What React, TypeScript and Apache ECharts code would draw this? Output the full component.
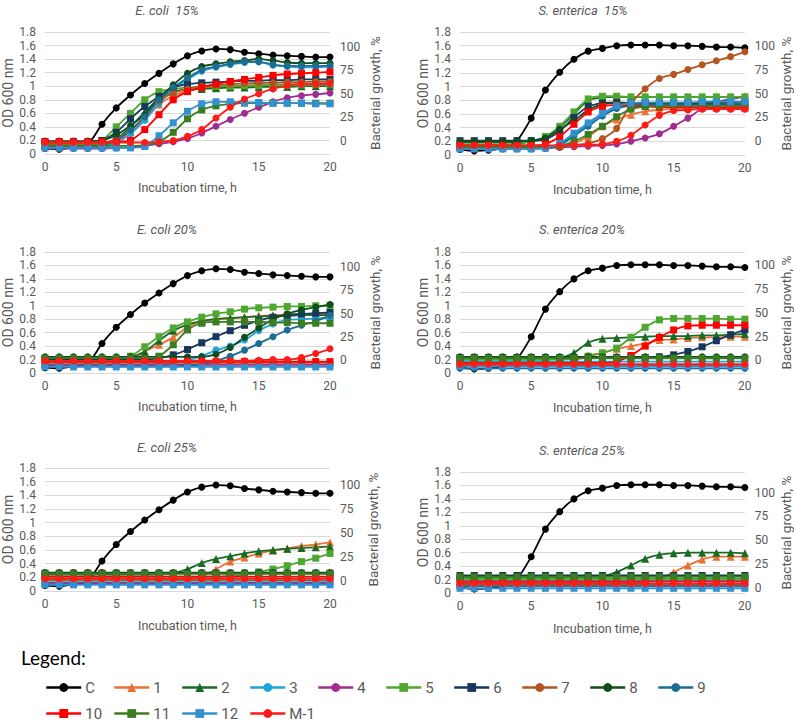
import React, { useEffect, useRef } from "react";
import * as echarts from "echarts";

// ---------- data ----------
const hours = [0, 1, 2, 3, 4, 5, 6, 7, 8, 9, 10, 11, 12, 13, 14, 15, 16, 17, 18, 19, 20];
const seriesNames = ["C", "1", "2", "3", "4", "5", "6", "7", "8", "9", "10", "11", "12", "M-1"];
const seriesColors = ["#000000", "#E97132", "#196B24", "#1EA3DC", "#A02B93", "#4EA72E", "#17375E", "#B4541E", "#0F4D1E", "#1C6D94", "#FF0000", "#3B7D23", "#3391CF", "#FF1A1A"];
const seriesSymbols = ["circle", "triangle", "triangle", "circle", "circle", "rect", "rect", "circle", "circle", "circle", "rect", "rect", "rect", "circle"];
const odTickStep = 0.2;
const growthTicks = [0, 25, 50, 75, 100];
const panelTitles = ["E. coli  15%", "S. enterica  15%", "E. coli 20%", "S. enterica 20%", "E. coli 25%", "S. enterica 25%"];
const growthRanges = [[-13.8, 115.6], [-14.8, 115.3], [-13.4, 116], [-13.2, 113.8], [-10.8, 118.3], [-5.7, 121.7]];

const ecoliControl = [0.08, 0.07, 0.10, 0.14, 0.44, 0.68, 0.87, 1.04, 1.19, 1.33, 1.45, 1.52, 1.55, 1.54, 1.50, 1.48, 1.46, 1.45, 1.44, 1.43, 1.43];
const entericaControl = [0.08, 0.06, 0.07, 0.10, 0.21, 0.54, 0.95, 1.21, 1.40, 1.52, 1.56, 1.60, 1.61, 1.61, 1.61, 1.60, 1.60, 1.59, 1.58, 1.58, 1.57];

// treatments 1..12, M-1
const ecoli15 = [
  [0.15, 0.15, 0.15, 0.15, 0.16, 0.19, 0.32, 0.52, 0.73, 0.86, 0.93, 0.97, 0.99, 1.00, 1.01, 1.02, 1.02, 1.03, 1.03, 1.04, 1.04],
  [0.13, 0.13, 0.13, 0.13, 0.14, 0.22, 0.40, 0.62, 0.82, 0.92, 0.95, 0.96, 0.97, 0.98, 0.98, 0.99, 0.99, 0.99, 1.00, 1.00, 1.00],
  [0.10, 0.10, 0.10, 0.10, 0.11, 0.16, 0.30, 0.50, 0.74, 0.95, 1.10, 1.22, 1.28, 1.32, 1.35, 1.36, 1.31, 1.29, 1.28, 1.28, 1.29],
  [0.08, 0.08, 0.08, 0.08, 0.08, 0.09, 0.10, 0.12, 0.15, 0.18, 0.23, 0.31, 0.41, 0.51, 0.60, 0.69, 0.77, 0.83, 0.86, 0.88, 0.90],
  [0.15, 0.15, 0.15, 0.15, 0.20, 0.40, 0.60, 0.80, 0.92, 0.96, 0.98, 0.99, 1.00, 1.00, 1.01, 1.01, 1.02, 1.02, 1.02, 1.03, 1.03],
  [0.18, 0.18, 0.18, 0.18, 0.20, 0.32, 0.52, 0.70, 0.85, 0.98, 1.03, 1.05, 1.06, 1.07, 1.08, 1.08, 1.09, 1.09, 1.10, 1.10, 1.10],
  [0.15, 0.15, 0.15, 0.15, 0.16, 0.22, 0.35, 0.55, 0.78, 0.90, 0.96, 1.00, 1.02, 1.03, 1.04, 1.05, 1.05, 1.06, 1.06, 1.07, 1.07],
  [0.19, 0.19, 0.19, 0.19, 0.20, 0.28, 0.42, 0.58, 0.82, 1.02, 1.19, 1.29, 1.33, 1.36, 1.38, 1.40, 1.38, 1.35, 1.34, 1.34, 1.34],
  [0.10, 0.10, 0.10, 0.10, 0.12, 0.20, 0.35, 0.55, 0.80, 0.98, 1.12, 1.24, 1.29, 1.33, 1.36, 1.36, 1.32, 1.30, 1.30, 1.30, 1.30],
  [0.18, 0.18, 0.18, 0.18, 0.18, 0.18, 0.20, 0.36, 0.58, 0.80, 0.92, 0.98, 1.03, 1.07, 1.10, 1.13, 1.16, 1.18, 1.19, 1.20, 1.21],
  [0.12, 0.12, 0.12, 0.12, 0.12, 0.12, 0.12, 0.13, 0.18, 0.32, 0.52, 0.65, 0.71, 0.74, 0.75, 0.75, 0.75, 0.75, 0.75, 0.75, 0.75],
  [0.09, 0.09, 0.09, 0.09, 0.09, 0.09, 0.09, 0.11, 0.27, 0.46, 0.63, 0.74, 0.77, 0.77, 0.76, 0.76, 0.75, 0.75, 0.75, 0.74, 0.74],
  [0.17, 0.17, 0.17, 0.17, 0.17, 0.17, 0.17, 0.17, 0.18, 0.20, 0.26, 0.36, 0.53, 0.69, 0.81, 0.89, 0.96, 1.01, 1.03, 1.03, 1.04],
];

const enterica15 = [
  [0.12, 0.12, 0.12, 0.12, 0.12, 0.12, 0.12, 0.13, 0.17, 0.27, 0.42, 0.52, 0.59, 0.64, 0.66, 0.68, 0.69, 0.70, 0.70, 0.70, 0.70],
  [0.18, 0.18, 0.18, 0.18, 0.18, 0.20, 0.25, 0.40, 0.60, 0.80, 0.84, 0.85, 0.85, 0.85, 0.85, 0.85, 0.85, 0.85, 0.85, 0.85, 0.85],
  [0.10, 0.10, 0.10, 0.10, 0.10, 0.10, 0.11, 0.15, 0.30, 0.45, 0.60, 0.70, 0.74, 0.75, 0.75, 0.75, 0.75, 0.75, 0.75, 0.75, 0.75],
  [0.10, 0.10, 0.10, 0.10, 0.10, 0.10, 0.10, 0.11, 0.12, 0.13, 0.14, 0.16, 0.20, 0.25, 0.31, 0.42, 0.54, 0.68, 0.77, 0.82, 0.85],
  [0.15, 0.15, 0.15, 0.15, 0.16, 0.20, 0.27, 0.42, 0.63, 0.82, 0.86, 0.86, 0.85, 0.85, 0.85, 0.85, 0.85, 0.85, 0.85, 0.85, 0.85],
  [0.21, 0.21, 0.21, 0.21, 0.21, 0.21, 0.23, 0.35, 0.55, 0.71, 0.76, 0.77, 0.76, 0.75, 0.75, 0.75, 0.75, 0.74, 0.74, 0.74, 0.74],
  [0.10, 0.10, 0.10, 0.10, 0.10, 0.10, 0.11, 0.12, 0.14, 0.17, 0.24, 0.39, 0.75, 0.97, 1.12, 1.18, 1.25, 1.32, 1.38, 1.44, 1.51],
  [0.20, 0.20, 0.20, 0.20, 0.20, 0.21, 0.25, 0.38, 0.50, 0.66, 0.74, 0.76, 0.76, 0.76, 0.76, 0.76, 0.76, 0.76, 0.77, 0.77, 0.78],
  [0.09, 0.09, 0.09, 0.09, 0.09, 0.09, 0.10, 0.14, 0.28, 0.42, 0.57, 0.68, 0.72, 0.73, 0.73, 0.73, 0.73, 0.73, 0.73, 0.73, 0.73],
  [0.14, 0.14, 0.14, 0.14, 0.14, 0.14, 0.16, 0.27, 0.45, 0.63, 0.71, 0.73, 0.72, 0.71, 0.70, 0.70, 0.70, 0.69, 0.69, 0.69, 0.69],
  [0.12, 0.12, 0.12, 0.12, 0.12, 0.12, 0.12, 0.13, 0.20, 0.30, 0.42, 0.56, 0.67, 0.71, 0.72, 0.72, 0.72, 0.72, 0.72, 0.72, 0.72],
  [0.09, 0.09, 0.09, 0.09, 0.09, 0.09, 0.10, 0.17, 0.32, 0.47, 0.61, 0.72, 0.76, 0.77, 0.77, 0.77, 0.77, 0.78, 0.78, 0.78, 0.78],
  [0.14, 0.14, 0.14, 0.14, 0.14, 0.14, 0.14, 0.14, 0.15, 0.15, 0.16, 0.20, 0.29, 0.44, 0.58, 0.65, 0.66, 0.67, 0.67, 0.67, 0.67],
];

const ecoli20 = [
  [0.16, 0.16, 0.16, 0.16, 0.16, 0.16, 0.18, 0.32, 0.42, 0.53, 0.68, 0.77, 0.80, 0.81, 0.83, 0.85, 0.86, 0.87, 0.88, 0.88, 0.88],
  [0.22, 0.22, 0.22, 0.22, 0.22, 0.22, 0.24, 0.32, 0.48, 0.63, 0.72, 0.77, 0.80, 0.82, 0.83, 0.84, 0.85, 0.85, 0.86, 0.86, 0.86],
  [0.12, 0.12, 0.12, 0.12, 0.12, 0.12, 0.12, 0.12, 0.13, 0.15, 0.19, 0.25, 0.34, 0.40, 0.49, 0.63, 0.73, 0.79, 0.80, 0.81, 0.82],
  [0.12, 0.12, 0.12, 0.12, 0.12, 0.12, 0.12, 0.12, 0.12, 0.12, 0.12, 0.12, 0.12, 0.12, 0.12, 0.12, 0.12, 0.12, 0.12, 0.12, 0.12],
  [0.21, 0.21, 0.21, 0.21, 0.21, 0.21, 0.25, 0.39, 0.54, 0.67, 0.76, 0.83, 0.88, 0.91, 0.95, 0.97, 0.98, 0.99, 0.99, 1.00, 1.00],
  [0.20, 0.20, 0.20, 0.20, 0.20, 0.20, 0.20, 0.20, 0.22, 0.27, 0.35, 0.45, 0.54, 0.63, 0.71, 0.78, 0.83, 0.86, 0.88, 0.89, 0.90],
  [0.15, 0.15, 0.15, 0.15, 0.15, 0.15, 0.15, 0.15, 0.15, 0.15, 0.15, 0.15, 0.15, 0.15, 0.15, 0.15, 0.15, 0.15, 0.15, 0.15, 0.15],
  [0.24, 0.24, 0.24, 0.24, 0.24, 0.24, 0.24, 0.24, 0.24, 0.24, 0.24, 0.24, 0.28, 0.38, 0.53, 0.67, 0.80, 0.88, 0.94, 0.98, 1.02],
  [0.10, 0.10, 0.10, 0.10, 0.10, 0.10, 0.10, 0.10, 0.10, 0.10, 0.11, 0.13, 0.18, 0.25, 0.34, 0.44, 0.54, 0.64, 0.71, 0.77, 0.86],
  [0.17, 0.17, 0.17, 0.17, 0.17, 0.17, 0.17, 0.17, 0.17, 0.17, 0.17, 0.17, 0.17, 0.17, 0.17, 0.17, 0.17, 0.17, 0.17, 0.17, 0.17],
  [0.22, 0.22, 0.22, 0.22, 0.22, 0.22, 0.22, 0.22, 0.25, 0.42, 0.64, 0.74, 0.76, 0.76, 0.76, 0.76, 0.75, 0.75, 0.74, 0.74, 0.74],
  [0.09, 0.09, 0.09, 0.09, 0.09, 0.09, 0.09, 0.09, 0.09, 0.09, 0.09, 0.09, 0.09, 0.09, 0.09, 0.09, 0.09, 0.09, 0.09, 0.09, 0.09],
  [0.18, 0.18, 0.18, 0.18, 0.18, 0.18, 0.18, 0.18, 0.18, 0.18, 0.18, 0.18, 0.18, 0.18, 0.18, 0.19, 0.20, 0.20, 0.23, 0.29, 0.36],
];

const enterica20 = [
  [0.15, 0.15, 0.15, 0.15, 0.15, 0.15, 0.15, 0.15, 0.18, 0.26, 0.30, 0.36, 0.40, 0.44, 0.49, 0.50, 0.52, 0.53, 0.53, 0.54, 0.54],
  [0.20, 0.20, 0.20, 0.20, 0.20, 0.20, 0.20, 0.22, 0.30, 0.45, 0.51, 0.52, 0.53, 0.54, 0.55, 0.55, 0.55, 0.56, 0.56, 0.57, 0.58],
  [0.17, 0.17, 0.17, 0.17, 0.17, 0.17, 0.17, 0.17, 0.17, 0.17, 0.17, 0.17, 0.17, 0.17, 0.17, 0.17, 0.17, 0.17, 0.17, 0.17, 0.17],
  [0.11, 0.11, 0.11, 0.11, 0.11, 0.11, 0.11, 0.11, 0.11, 0.11, 0.11, 0.11, 0.11, 0.11, 0.11, 0.11, 0.11, 0.11, 0.11, 0.11, 0.11],
  [0.20, 0.20, 0.20, 0.20, 0.20, 0.20, 0.20, 0.20, 0.21, 0.25, 0.30, 0.37, 0.53, 0.68, 0.79, 0.81, 0.81, 0.81, 0.81, 0.80, 0.80],
  [0.23, 0.23, 0.23, 0.23, 0.23, 0.23, 0.23, 0.23, 0.23, 0.23, 0.23, 0.23, 0.23, 0.23, 0.24, 0.27, 0.32, 0.39, 0.48, 0.57, 0.64],
  [0.12, 0.12, 0.12, 0.12, 0.12, 0.12, 0.12, 0.12, 0.12, 0.12, 0.12, 0.12, 0.12, 0.12, 0.12, 0.12, 0.12, 0.12, 0.12, 0.12, 0.12],
  [0.24, 0.24, 0.24, 0.24, 0.24, 0.24, 0.24, 0.24, 0.24, 0.24, 0.24, 0.24, 0.24, 0.24, 0.24, 0.24, 0.24, 0.24, 0.24, 0.24, 0.24],
  [0.07, 0.07, 0.07, 0.07, 0.07, 0.07, 0.07, 0.07, 0.07, 0.07, 0.07, 0.07, 0.07, 0.07, 0.07, 0.07, 0.07, 0.07, 0.07, 0.07, 0.07],
  [0.15, 0.15, 0.15, 0.15, 0.15, 0.15, 0.15, 0.15, 0.15, 0.15, 0.15, 0.17, 0.26, 0.40, 0.53, 0.64, 0.70, 0.71, 0.71, 0.71, 0.71],
  [0.22, 0.22, 0.22, 0.22, 0.22, 0.22, 0.22, 0.22, 0.22, 0.22, 0.22, 0.22, 0.22, 0.22, 0.22, 0.22, 0.22, 0.22, 0.22, 0.22, 0.22],
  [0.10, 0.10, 0.10, 0.10, 0.10, 0.10, 0.10, 0.10, 0.10, 0.10, 0.10, 0.10, 0.10, 0.10, 0.10, 0.10, 0.10, 0.10, 0.10, 0.10, 0.10],
  [0.13, 0.13, 0.13, 0.13, 0.13, 0.13, 0.13, 0.13, 0.13, 0.13, 0.13, 0.13, 0.13, 0.13, 0.13, 0.13, 0.13, 0.13, 0.13, 0.13, 0.13],
];

const ecoli25 = [
  [0.16, 0.16, 0.16, 0.16, 0.16, 0.16, 0.16, 0.16, 0.16, 0.16, 0.17, 0.21, 0.32, 0.43, 0.49, 0.55, 0.59, 0.62, 0.66, 0.68, 0.71],
  [0.24, 0.24, 0.24, 0.24, 0.24, 0.24, 0.24, 0.24, 0.24, 0.26, 0.32, 0.41, 0.47, 0.51, 0.55, 0.58, 0.60, 0.62, 0.63, 0.64, 0.65],
  [0.13, 0.13, 0.13, 0.13, 0.13, 0.13, 0.13, 0.13, 0.13, 0.13, 0.13, 0.13, 0.13, 0.13, 0.13, 0.13, 0.13, 0.13, 0.13, 0.13, 0.13],
  [0.12, 0.12, 0.12, 0.12, 0.12, 0.12, 0.12, 0.12, 0.12, 0.12, 0.12, 0.12, 0.12, 0.12, 0.12, 0.12, 0.12, 0.12, 0.12, 0.12, 0.12],
  [0.21, 0.21, 0.21, 0.21, 0.21, 0.21, 0.21, 0.21, 0.21, 0.21, 0.21, 0.21, 0.21, 0.22, 0.24, 0.28, 0.32, 0.37, 0.43, 0.48, 0.55],
  [0.26, 0.26, 0.26, 0.26, 0.26, 0.26, 0.26, 0.26, 0.26, 0.26, 0.26, 0.26, 0.26, 0.26, 0.26, 0.26, 0.26, 0.26, 0.26, 0.26, 0.26],
  [0.16, 0.16, 0.16, 0.16, 0.16, 0.16, 0.16, 0.16, 0.16, 0.16, 0.16, 0.16, 0.16, 0.16, 0.16, 0.16, 0.16, 0.16, 0.16, 0.16, 0.16],
  [0.27, 0.27, 0.27, 0.27, 0.27, 0.27, 0.27, 0.27, 0.27, 0.27, 0.27, 0.27, 0.27, 0.27, 0.27, 0.27, 0.27, 0.27, 0.27, 0.27, 0.27],
  [0.10, 0.10, 0.10, 0.10, 0.10, 0.10, 0.10, 0.10, 0.10, 0.10, 0.10, 0.10, 0.10, 0.10, 0.10, 0.10, 0.10, 0.10, 0.10, 0.10, 0.10],
  [0.21, 0.21, 0.21, 0.21, 0.21, 0.21, 0.21, 0.21, 0.21, 0.21, 0.21, 0.21, 0.21, 0.21, 0.21, 0.21, 0.21, 0.21, 0.21, 0.21, 0.21],
  [0.25, 0.25, 0.25, 0.25, 0.25, 0.25, 0.25, 0.25, 0.25, 0.25, 0.25, 0.25, 0.25, 0.25, 0.25, 0.25, 0.25, 0.25, 0.25, 0.25, 0.25],
  [0.09, 0.09, 0.09, 0.09, 0.09, 0.09, 0.09, 0.09, 0.09, 0.09, 0.09, 0.09, 0.09, 0.09, 0.09, 0.09, 0.09, 0.09, 0.09, 0.09, 0.09],
  [0.18, 0.18, 0.18, 0.18, 0.18, 0.18, 0.18, 0.18, 0.18, 0.18, 0.18, 0.18, 0.18, 0.18, 0.18, 0.18, 0.18, 0.18, 0.18, 0.18, 0.18],
];

const enterica25 = [
  [0.15, 0.15, 0.15, 0.15, 0.15, 0.15, 0.15, 0.15, 0.15, 0.15, 0.15, 0.15, 0.15, 0.16, 0.21, 0.31, 0.41, 0.50, 0.54, 0.54, 0.54],
  [0.24, 0.24, 0.24, 0.24, 0.24, 0.24, 0.24, 0.24, 0.24, 0.24, 0.25, 0.31, 0.41, 0.51, 0.57, 0.59, 0.60, 0.60, 0.60, 0.60, 0.59],
  [0.19, 0.19, 0.19, 0.19, 0.19, 0.19, 0.19, 0.19, 0.19, 0.19, 0.19, 0.19, 0.19, 0.19, 0.19, 0.19, 0.19, 0.19, 0.19, 0.19, 0.19],
  [0.12, 0.12, 0.12, 0.12, 0.12, 0.12, 0.12, 0.12, 0.12, 0.12, 0.12, 0.12, 0.12, 0.12, 0.12, 0.12, 0.12, 0.12, 0.12, 0.12, 0.12],
  [0.21, 0.21, 0.21, 0.21, 0.21, 0.21, 0.21, 0.21, 0.21, 0.21, 0.21, 0.21, 0.21, 0.21, 0.21, 0.21, 0.21, 0.21, 0.21, 0.21, 0.21],
  [0.26, 0.26, 0.26, 0.26, 0.26, 0.26, 0.26, 0.26, 0.26, 0.26, 0.26, 0.26, 0.26, 0.26, 0.26, 0.26, 0.26, 0.26, 0.26, 0.26, 0.26],
  [0.12, 0.12, 0.12, 0.12, 0.12, 0.12, 0.12, 0.12, 0.12, 0.12, 0.12, 0.12, 0.12, 0.12, 0.12, 0.12, 0.12, 0.12, 0.12, 0.12, 0.12],
  [0.25, 0.25, 0.25, 0.25, 0.25, 0.25, 0.25, 0.25, 0.25, 0.25, 0.25, 0.25, 0.25, 0.25, 0.25, 0.25, 0.25, 0.25, 0.25, 0.25, 0.25],
  [0.10, 0.10, 0.10, 0.10, 0.10, 0.10, 0.10, 0.10, 0.10, 0.10, 0.10, 0.10, 0.10, 0.10, 0.10, 0.10, 0.10, 0.10, 0.10, 0.10, 0.10],
  [0.17, 0.17, 0.17, 0.17, 0.17, 0.17, 0.17, 0.17, 0.17, 0.17, 0.17, 0.17, 0.17, 0.17, 0.17, 0.17, 0.17, 0.17, 0.17, 0.17, 0.17],
  [0.24, 0.24, 0.24, 0.24, 0.24, 0.24, 0.24, 0.24, 0.24, 0.24, 0.24, 0.24, 0.24, 0.24, 0.24, 0.24, 0.24, 0.24, 0.24, 0.24, 0.24],
  [0.07, 0.07, 0.07, 0.07, 0.07, 0.07, 0.07, 0.07, 0.07, 0.07, 0.07, 0.07, 0.07, 0.07, 0.07, 0.07, 0.07, 0.07, 0.07, 0.07, 0.07],
  [0.14, 0.14, 0.14, 0.14, 0.14, 0.14, 0.14, 0.14, 0.14, 0.14, 0.14, 0.14, 0.14, 0.14, 0.14, 0.14, 0.14, 0.14, 0.14, 0.14, 0.14],
];

const panelControls = [ecoliControl, entericaControl, ecoliControl, entericaControl, ecoliControl, entericaControl];
const panelTreatments = [ecoli15, enterica15, ecoli20, enterica20, ecoli25, enterica25];

// ---------- layout ----------
const GRIDS = [
  { left: 45, top: 32, width: 285, height: 122 },
  { left: 460, top: 32, width: 287, height: 123 },
  { left: 45, top: 252, width: 285, height: 121 },
  { left: 460, top: 252, width: 286, height: 121 },
  { left: 45, top: 468, width: 285, height: 123 },
  { left: 460, top: 472, width: 286, height: 121 },
];
const TITLE_POS = [[167, 10], [583, 10], [167, 229], [582, 229], [167, 447], [582, 450]];
const LEFT_GAP = [26, 28, 26, 28, 26, 28];
const RIGHT_GAP = [38, 33, 38, 34, 36, 34];
const X_GAP = [27, 28, 27, 28, 28, 29];

const FONT = "Roboto, 'Noto Sans', sans-serif";
const GREY = "#595959";

export default function App() {
  const ref = useRef<HTMLDivElement>(null);
  useEffect(() => {
    if (!ref.current) return;
    const chart = echarts.init(ref.current, undefined, { renderer: "svg" });

    const xAxis: any[] = [];
    const yAxis: any[] = [];
    const series: any[] = [];

    GRIDS.forEach((g, p) => {
      xAxis.push({
        type: "value", gridIndex: p, min: 0, max: 20, interval: 5,
        axisLine: { show: true, lineStyle: { color: "#D9D9D9", width: 1 } },
        axisTick: { show: false }, splitLine: { show: false },
        axisLabel: { color: GREY, fontSize: 12, fontFamily: FONT, margin: 7 },
        name: "Incubation time, h", nameLocation: "middle", nameGap: X_GAP[p],
        nameTextStyle: { color: GREY, fontSize: 12.5, fontFamily: FONT },
      });
      yAxis.push({
        type: "value", gridIndex: p, position: "left", min: 0, max: 1.8, interval: odTickStep,
        axisLine: { show: false }, axisTick: { show: false },
        splitLine: { show: true, lineStyle: { color: "#D9D9D9", width: 1 } },
        axisLabel: { color: GREY, fontSize: 12, fontFamily: FONT, margin: 9 },
        name: "OD 600 nm", nameLocation: "middle", nameGap: LEFT_GAP[p] - 1,
        nameTextStyle: { color: GREY, fontSize: 14, fontFamily: FONT },
      });
      yAxis.push({
        type: "value", gridIndex: p, position: "right", min: growthRanges[p][0], max: growthRanges[p][1],
        axisLine: { show: false }, axisTick: { show: false }, splitLine: { show: false },
        axisLabel: { color: GREY, fontSize: 12, fontFamily: FONT, margin: 10, customValues: growthTicks },
        name: "Bacterial growth, %", nameLocation: "middle", nameGap: RIGHT_GAP[p],
        nameTextStyle: { color: GREY, fontSize: 13.5, fontFamily: FONT },
      });

      const all = [panelControls[p], ...panelTreatments[p]];
      all.forEach((vals, si) => {
        const sym = seriesSymbols[si];
        series.push({
          type: "line", name: seriesNames[si], xAxisIndex: p, yAxisIndex: p * 2,
          data: hours.map((h, k) => [h, vals[k]]),
          symbol: sym, symbolSize: sym === "triangle" ? 8 : 7,
          smooth: 0.25,
          itemStyle: { color: seriesColors[si] },
          lineStyle: { color: seriesColors[si], width: 1.8 },
          emphasis: { disabled: true }, silent: true,
        });
      });
    });

    const legends = seriesNames.map((n, i) => {
      const row = i < 10 ? 0 : 1;
      const col = row === 0 ? i : i - 10;
      return {
        data: [n], left: 45 + col * 68, top: row === 0 ? 680 : 706,
        itemWidth: 35, itemHeight: 11, itemGap: 0, padding: 0, selectedMode: false,
        lineStyle: { width: 2.5 },
        textStyle: { color: GREY, fontSize: 15, fontFamily: FONT, padding: [0, 0, 0, -1] },
      };
    });

    const graphic: any[] = panelTitles.map((t, p) => ({
      type: "text", x: TITLE_POS[p][0], y: TITLE_POS[p][1],
      style: { text: t, fill: GREY, fontSize: 13, fontStyle: "italic", fontFamily: FONT, align: "center", verticalAlign: "middle" },
    }));
    graphic.push({
      type: "text", x: 21, y: 657,
      style: { text: "Legend:", fill: "#000000", fontSize: 19, fontFamily: "Lato, sans-serif", align: "left", verticalAlign: "middle" },
    });

    chart.setOption({
      animation: false,
      backgroundColor: "#FFFFFF",
      grid: GRIDS,
      xAxis, yAxis, series, legend: legends, graphic,
    });
    return () => chart.dispose();
  }, []);
  return <div ref={ref} style={{ position: "absolute", left: 0, top: 0, width: 794, height: 721 }} />;
}
